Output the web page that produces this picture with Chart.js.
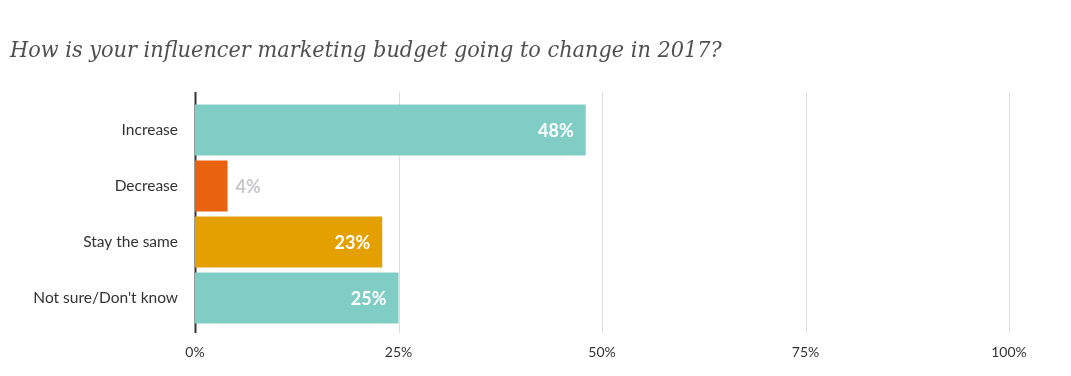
<!DOCTYPE html>
<html>
  <head>
    <title>Influencer Marketing Budget 2017</title>
    <script src="https://cdn.jsdelivr.net/npm/chart.js"></script>
    <style>
      body {
        margin: 0;
        background: #ffffff;
      }
      .wrap {
        position: relative;
        width: 1071px;
        height: 376px;
      }
      h1 {
        position: absolute;
        left: 10px;
        top: 35px;
        margin: 0;
        font-family: "DejaVu Serif Condensed", "DejaVu Serif", serif;
        font-style: italic;
        font-weight: normal;
        font-size: 23px;
        color: #505050;
        white-space: nowrap;
      }
    </style>
  </head>
  <body>
    <div class="wrap">
      <h1 id="title">How is your influencer marketing budget going to change in 2017?</h1>
      <canvas id="budgetChart" width="1071" height="376"></canvas>
    </div>

    <script>
      // survey answers and share of respondents (%)
      const answers = ["Increase", "Decrease", "Stay the same", "Not sure/Don't know"];
      const shares = [48, 4, 23, 25];
      const barColors = ["#80cdc6", "#e8620f", "#e3a000", "#80cdc6"];
      const xTicks = [0, 25, 50, 75, 100];

      // squeeze the title into its line
      const title = document.getElementById("title");
      const want = 712;
      const got = title.getBoundingClientRect().width;
      title.style.fontSize = (23 * want / got).toFixed(2) + "px";

      // vertical grid lines, running a bit past the plot area
      const gridLines = {
        id: "gridLines",
        beforeDatasetsDraw(chart) {
          const { ctx, scales } = chart;
          ctx.save();
          xTicks.forEach((t) => {
            const x = Math.round(scales.x.getPixelForValue(t)) + 0.5;
            ctx.beginPath();
            ctx.moveTo(x, 92);
            ctx.lineTo(x, 333);
            ctx.lineWidth = t === 0 ? 2 : 1;
            ctx.strokeStyle = t === 0 ? "#333333" : "#dddddd";
            ctx.stroke();
          });
          ctx.restore();
        },
      };

      // percent labels at the end of each bar
      const valueLabels = {
        id: "valueLabels",
        afterDatasetsDraw(chart) {
          const { ctx } = chart;
          const meta = chart.getDatasetMeta(0);
          ctx.save();
          ctx.font = "bold 18px Lato, sans-serif";
          ctx.textBaseline = "middle";
          meta.data.forEach((bar, i) => {
            const v = shares[i];
            const text = v + "%";
            if (v < 10) {
              ctx.fillStyle = "#c8c8cc";
              ctx.textAlign = "left";
              ctx.fillText(text, bar.x + 8, bar.y + 1);
            } else {
              ctx.fillStyle = "#ffffff";
              ctx.textAlign = "right";
              ctx.fillText(text, bar.x - 12, bar.y + 1);
            }
          });
          ctx.restore();
        },
      };

      new Chart(document.getElementById("budgetChart"), {
        type: "bar",
        data: {
          labels: answers,
          datasets: [
            {
              data: shares,
              backgroundColor: barColors,
              borderWidth: 0,
              barPercentage: 0.91,
              categoryPercentage: 1,
            },
          ],
        },
        options: {
          indexAxis: "y",
          responsive: false,
          animation: false,
          layout: {
            padding: { top: 102, right: 62, bottom: 0, left: 0 },
          },
          plugins: {
            legend: { display: false },
            tooltip: { enabled: false },
          },
          scales: {
            x: {
              min: 0,
              max: 100,
              afterFit: (s) => { s.height = 50; },
              afterBuildTicks: (s) => { s.ticks = xTicks.map((v) => ({ value: v })); },
              grid: { display: false, drawTicks: false },
              border: { display: false },
              ticks: {
                padding: 18,
                color: "#333333",
                font: { family: "Lato, sans-serif", size: 14 },
                callback: (v) => v + "%",
              },
            },
            y: {
              afterFit: (s) => { s.width = 195; },
              grid: { display: false, drawTicks: false },
              border: { display: false },
              ticks: {
                padding: 17,
                color: "#333333",
                font: { family: "Lato, sans-serif", size: 15.5 },
              },
            },
          },
        },
        plugins: [gridLines, valueLabels],
      });
    </script>
  </body>
</html>
